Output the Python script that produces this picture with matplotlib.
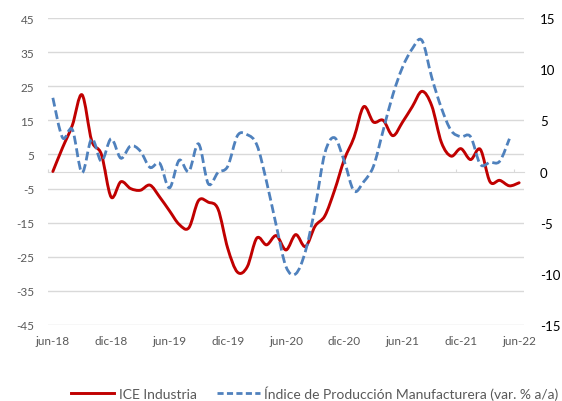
import matplotlib
matplotlib.use("Agg")
import matplotlib.pyplot as plt
from matplotlib.path import Path
from matplotlib.patches import PathPatch
from matplotlib.lines import Line2D

plt.rcParams["font.family"] = ["Lato", "DejaVu Sans"]
plt.rcParams["axes.unicode_minus"] = False

# monthly categories jun-18 .. jun-22, labelled every 6 months
tick_labels = ["jun-18", "dic-18", "jun-19", "dic-19", "jun-20",
               "dic-20", "jun-21", "dic-21", "jun-22"]

# ICE Industria (left axis)
ice = [0, 7, 13.5, 22.5, 9, 5, -7.5, -3, -5, -5.5,
       -4, -7.5, -11.5, -15.5, -16.5, -8.5, -9, -11, -22.5, -29.5,
       -28, -19.5, -21.5, -18.8, -23, -18.5, -22, -16, -13, -5.5,
       3.5, 10, 19, 14.5, 15, 10.5, 14.5, 19, 23.5, 19.3,
       8.5, 4.5, 6.7, 3.5, 6.5, -3, -2.6, -4.2, -3.3]

# Indice de Produccion Manufacturera, var. % a/a (right axis)
ipm = [7.2, 3.3, 4.1, -0.1, 3.2, 1.0, 3.2, 1.3, 2.5, 2.0,
       0.4, 0.8, -1.6, 1.1, 0.0, 2.7, -1.2, -0.1, 0.5, 3.5,
       3.6, 2.6, -1.0, -5.3, -9.3, -10.0, -7.8, -3.5, 1.8, 3.3,
       1.0, -1.9, -1.0, 0.5, 4.0, 7.5, 10.2, 12.0, 12.8, 9.2,
       6.2, 4.0, 3.4, 3.4, 0.7, 0.9, 1.0, 3.2]

RED = "#C00000"
BLUE = "#4F81BD"
GRID = "#D9D9D9"
TXT = "#595959"


def smooth_path(ys):
    # excel-like smoothed line: cubic bezier through every point
    pts = [(float(i), float(v)) for i, v in enumerate(ys)]
    verts = [pts[0]]
    codes = [Path.MOVETO]
    n = len(pts)
    for i in range(n - 1):
        p0 = pts[i - 1] if i > 0 else pts[i]
        p1 = pts[i]
        p2 = pts[i + 1]
        p3 = pts[i + 2] if i + 2 < n else pts[i + 1]
        c1 = (p1[0] + (p2[0] - p0[0]) / 6, p1[1] + (p2[1] - p0[1]) / 6)
        c2 = (p2[0] - (p3[0] - p1[0]) / 6, p2[1] - (p3[1] - p1[1]) / 6)
        verts += [c1, c2, p2]
        codes += [Path.CURVE4] * 3
    return Path(verts, codes)


fig = plt.figure(figsize=(5.62, 4.02), dpi=100)
ax = fig.add_axes([48 / 562, 76 / 402, 476 / 562, 307 / 402])
ax2 = ax.twinx()

n_cat = len(ice)
ax.set_xlim(-0.5, n_cat - 0.5)
ax.set_ylim(-45, 45)
ax2.set_ylim(-15, 15)

ax.set_yticks(range(-45, 46, 10))
ax.grid(axis="y", color=GRID, linewidth=1.0)
ax.set_axisbelow(True)
ax2.set_yticks(range(-15, 16, 5))

for a in (ax, ax2):
    for s in ("top", "left", "right"):
        a.spines[s].set_visible(False)
ax2.spines["bottom"].set_visible(False)

# category axis crosses at 0, ticks between categories every 6 months
ax.spines["bottom"].set_position(("data", 0))
ax.spines["bottom"].set_color(GRID)
ax.set_xticks([k - 0.5 for k in range(0, n_cat, 6)])
ax.tick_params(axis="x", direction="in", length=2, color=GRID, labelbottom=False)

sec = ax.secondary_xaxis("bottom")
sec.set_xticks(list(range(0, n_cat, 6)))
sec.set_xticklabels(tick_labels)
sec.tick_params(length=0, pad=7, labelsize=8.5, labelcolor=TXT)
sec.spines["bottom"].set_visible(False)

ax.tick_params(axis="y", length=0, pad=10, labelsize=8.5, labelcolor=TXT)
ax2.tick_params(axis="y", length=0, pad=11.5, labelsize=9.5, labelcolor="black")

ax.add_patch(PathPatch(smooth_path(ice), fill=False, edgecolor=RED,
                       linewidth=2.1, capstyle="round", joinstyle="round", zorder=3))
ax2.add_patch(PathPatch(smooth_path(ipm), fill=False, edgecolor=BLUE,
                        linewidth=2.0, linestyle=(0, (3.2, 1.4)), zorder=3))

handles = [Line2D([], [], color=RED, linewidth=2.1),
           Line2D([], [], color=BLUE, linewidth=2.0, linestyle=(0, (2.2, 1.2)))]
labels = ["ICE Industria", "Índice de Producción Manufacturera (var. % a/a)"]
leg = fig.legend(handles, labels, loc="center", bbox_to_anchor=(315 / 562, 8 / 402),
                 ncol=2, frameon=False, fontsize=10, handlelength=3.1,
                 handletextpad=0.35, columnspacing=1.4)
for t in leg.get_texts():
    t.set_color(TXT)

fig.savefig("out.png", dpi=100)
